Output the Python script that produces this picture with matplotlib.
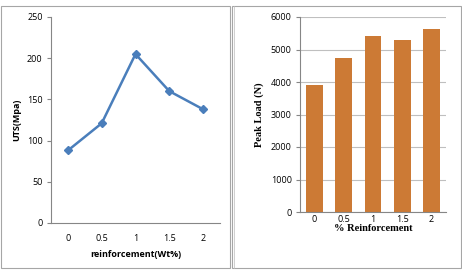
import matplotlib.pyplot as plt
from matplotlib.patches import Rectangle

# data
reinf = ['0', '0.5', '1', '1.5', '2']
uts = [88, 121, 205, 160, 138]
peak_load = [3900, 4730, 5420, 5280, 5630]

plt.rcParams['font.family'] = ['Open Sans', 'DejaVu Sans']

fig = plt.figure(figsize=(4.62, 2.76), dpi=100)
W, H = 462, 276

def px_box(x0, y0, x1, y1):
    return [x0 / W, 1 - y1 / H, (x1 - x0) / W, (y1 - y0) / H]

# panel frames
fig.patches.append(Rectangle((0.5 / W, 1 - 268 / H), 229 / W, 262 / H,
                             transform=fig.transFigure, fill=False, ec='#a6a6a6', lw=0.8))
fig.patches.append(Rectangle((231.5 / W, 1 - 268 / H), 229.5 / W, 262 / H,
                             transform=fig.transFigure, fill=False, ec='#a6a6a6', lw=0.8))
fig.patches.append(Rectangle((233.5 / W, 1 - 268 / H), 0.1 / W, 262 / H,
                             transform=fig.transFigure, fill=False, ec='#c8c8c8', lw=0.6))

gray = '#868686'

# left: UTS line chart
ax1 = fig.add_axes(px_box(51, 17, 220, 223))
x = range(len(reinf))
ax1.plot(x, uts, color='#4a7ebb', lw=1.8, marker='D', ms=4.5)
ax1.set_xlim(-0.5, 4.5)
ax1.set_ylim(0, 250)
ax1.set_yticks(range(0, 251, 50))
ax1.set_xticks(list(x))
ax1.set_xticklabels(reinf)
for s in ['top', 'right']:
    ax1.spines[s].set_visible(False)
for s in ['left', 'bottom']:
    ax1.spines[s].set_color(gray)
    ax1.spines[s].set_linewidth(0.8)
ax1.tick_params(axis='y', length=3, color=gray, labelsize=6.5, pad=3)
ax1.tick_params(axis='x', length=0, labelsize=6.5, pad=8)
ax1.set_xlabel('reinforcement(Wt%)', fontsize=6.5, fontweight='bold', labelpad=5)
ax1.set_ylabel('UTS(Mpa)', fontsize=6.5, fontweight='bold', labelpad=4)

# right: peak load bar chart
ax2 = fig.add_axes(px_box(300, 17, 446, 212))
ax2.bar(x, peak_load, width=0.58, color='#cc7a35', zorder=2)
ax2.set_xlim(-0.5, 4.5)
ax2.set_ylim(0, 6000)
ax2.set_yticks(range(0, 6001, 1000))
ax2.set_xticks(list(x))
ax2.set_xticklabels(reinf)
ax2.grid(axis='y', color='#bfbfbf', lw=0.8, zorder=0)
for s in ['top', 'right']:
    ax2.spines[s].set_visible(False)
for s in ['left', 'bottom']:
    ax2.spines[s].set_color(gray)
    ax2.spines[s].set_linewidth(0.8)
ax2.tick_params(axis='y', length=3, color=gray, labelsize=6.5, pad=3)
ax2.tick_params(axis='x', length=0, labelsize=6.5, pad=2)
ax2.set_xlabel('% Reinforcement', fontsize=7.5, fontweight='bold',
               family='Liberation Serif', labelpad=0)
ax2.set_ylabel('Peak Load (N)', fontsize=7.5, fontweight='bold',
               family='Liberation Serif', labelpad=5)

fig.savefig('out.png', dpi=100)
